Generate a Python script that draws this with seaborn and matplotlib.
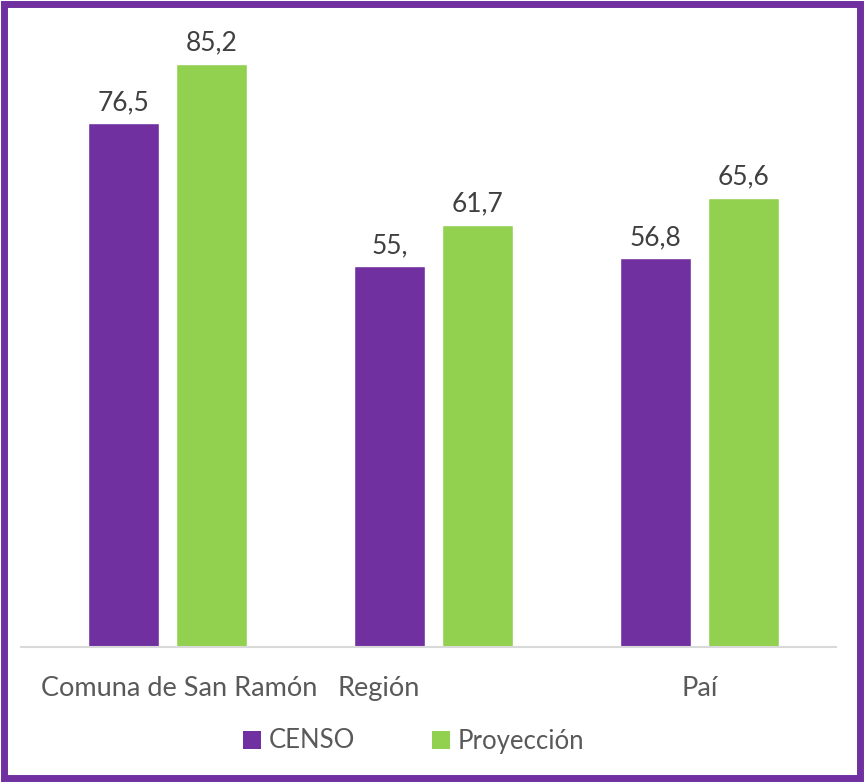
import matplotlib
matplotlib.use("Agg")
import matplotlib.pyplot as plt
import matplotlib.transforms as mtransforms
from matplotlib.patches import Patch, Rectangle
import seaborn as sns
import pandas as pd

categories = ["Comuna de San Ramón", "Región", "Paí"]
series_names = ["CENSO", "Proyección"]
censo = [76.5, 55.6, 56.8]
proyeccion = [85.2, 61.7, 65.6]
censo_labels = ["76,5", "55,", "56,8"]
proyeccion_labels = ["85,2", "61,7", "65,6"]
colors = ["#7030A0", "#92D050"]

df = pd.DataFrame({
    "categoria": categories * 2,
    "serie": [series_names[0]] * 3 + [series_names[1]] * 3,
    "valor": censo + proyeccion,
})

sns.set_theme(style="white")
plt.rcParams["font.family"] = ["Lato", "DejaVu Sans"]

fig = plt.figure(figsize=(8.64, 7.82), dpi=100)
ax = fig.add_axes([21 / 864, 1 - 647 / 782, (836 - 21) / 864, (647 - 31) / 782])

sns.barplot(data=df, x="categoria", y="valor", hue="serie", palette=colors,
            width=0.66, gap=0.19, ax=ax, legend=False, saturation=1)

ax.set_xlim(-0.551, 2.513)
ax.set_ylim(0, 90)
ax.set_xlabel("")
ax.set_ylabel("")
ax.set_yticks([])
for s in ["top", "right", "left"]:
    ax.spines[s].set_visible(False)
ax.spines["bottom"].set_color("#D9D9D9")
ax.spines["bottom"].set_linewidth(1.5)
ax.tick_params(axis="x", length=0, pad=21, labelsize=19.5, labelcolor="#595959")

for cont, labs in zip(ax.containers, [censo_labels, proyeccion_labels]):
    ax.bar_label(cont, labels=labs, padding=6, fontsize=19, color="#404040")

# Shift tick labels to match reference placement
offsets = [12, -55, 0]
for lab, dx in zip(ax.get_xticklabels(), offsets):
    lab.set_transform(lab.get_transform() + mtransforms.ScaledTranslation(dx / 100, 0, fig.dpi_scale_trans))

handles = [Patch(facecolor=c, edgecolor="none") for c in colors]
fig.legend(handles, series_names, loc="center", bbox_to_anchor=(414 / 864, 1 - 741 / 782),
           ncol=2, frameon=False, fontsize=18.5, handlelength=0.7, handleheight=0.7,
           handletextpad=0.3, columnspacing=3.0, labelcolor="#595959")

fig.patches.append(Rectangle((4 / 864, 4 / 782), 1 - 8 / 864, 1 - 8 / 782,
                             transform=fig.transFigure, fill=False,
                             edgecolor="#7030A0", linewidth=5.0))

fig.savefig("out.png", dpi=100)
